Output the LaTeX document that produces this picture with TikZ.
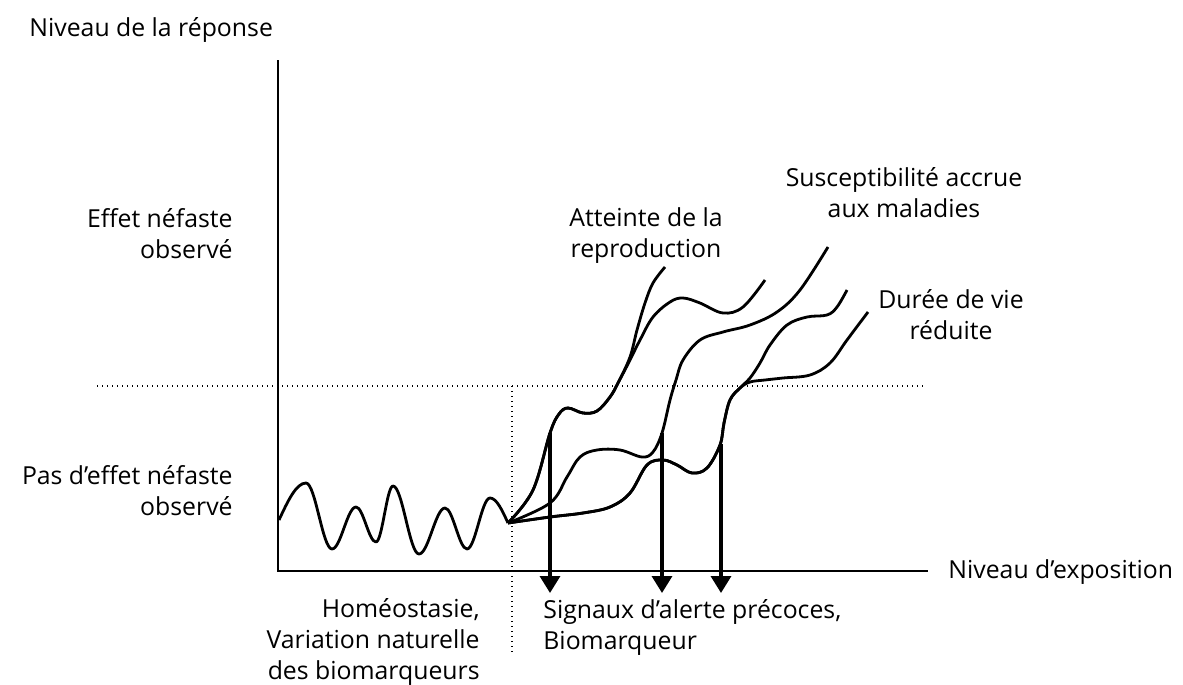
\documentclass[tikz,border=0pt]{standalone}
\usepackage{fontspec}
\setsansfont{Open Sans}
\usetikzlibrary{arrows.meta}
\newcommand*{\xo  }{278}
\newcommand*{\yo  }{571}
\newcommand*{\ylim}{386}
\newcommand*{\xlim}{512}
\newcommand*{\lbl }{\fontsize{12.4}{15.5}\selectfont}

\begin{document}
\begin{tikzpicture}[x=0.5pt, y=-0.5pt, font=\sffamily\lbl,
    curve/.style  = {line width=1.4pt, line join=round},
    limit/.style  = {line width=0.8pt, dash pattern=on 0.7pt off 1.8pt},
    signal/.style = {line width=1.7pt, -{Triangle[length=8.5pt, width=10pt]}},
    lab/.style    = {inner sep=0pt}]
    \useasboundingbox (0,0) rectangle (1183,685);
    % axes
    \coordinate (origin) at (\xo,\yo);
    \coordinate (ytop)   at (\xo,60);
    \coordinate (xend)   at (928,\yo);
    \draw [line width=1.3pt] (ytop) -- (origin) -- (xend);
    \coordinate (hl) at (97,\ylim);
    \coordinate (hr) at (923,\ylim);
    \coordinate (vt) at (\xlim,\ylim);
    \coordinate (vb) at (\xlim,652);
    \draw [limit] (hl) -- (hr);
    \draw [limit] (vt) -- (vb);
    % homeostasis
    \draw [curve] (279,520) sin (306,483) cos (319,516) sin (332,549) cos (344,528) sin (356,507)
        cos (366,524.5) sin (376,542) cos (384.5,514) sin (393,486) cos (406,520) sin (419,554)
        cos (432,531) sin (445,508) cos (456,528.5) sin (467,549) cos (478.5,523.5) sin (490,498)
        cos (508,523);
    % responses
    \draw [curve] plot [smooth, tension=0.6] coordinates {(508,523) (533,490) (550,433) (559,414)
        (568,408) (583,413) (597,411) (610,397) (618,383) (630,357) (637,330) (645,303) (653,283) (665,267)};
    \draw [curve] plot [smooth, tension=0.6] coordinates {(508,523) (533,490) (550,433) (559,414)
        (568,408) (583,413) (597,411) (610,397) (618,383) (629,362) (640,340) (653,317) (670,302)
        (683,298) (700,303) (723,313) (743,307) (765,280)};
    \draw [curve] plot [smooth, tension=0.6] coordinates {(508,523) (550,503) (567,477) (580,457)
        (597,450) (620,450) (642,457) (653,452) (662,433) (670,400) (676,380) (683,360) (700,340)
        (723,332) (750,325) (777,312) (800,290) (828,247)};
    \draw [curve] plot [smooth, tension=0.6] coordinates {(508,523) (550,517) (583,513) (610,507)
        (630,493) (647,465) (663,460) (677,465) (692,473) (707,468) (720,445) (724,423) (730,400)
        (740,388) (750,378) (760,363) (770,345) (787,325) (807,317) (827,315) (837,307) (847,290)};
    \draw [curve] plot [smooth, tension=0.6] coordinates {(508,523) (550,517) (583,513) (610,507)
        (630,493) (647,465) (663,460) (677,465) (692,473) (707,468) (720,445) (724,423) (730,400)
        (740,388) (750,382) (765,380) (783,378) (810,375) (830,363) (847,340) (868,312)};
    % early signals
    \coordinate (sA) at (550,433);
    \coordinate (sB) at (662,433);
    \coordinate (sC) at (721,444);
    \coordinate (eA) at (550,593);
    \coordinate (eB) at (662,593);
    \coordinate (eC) at (721,593);
    \draw [signal] (sA) -- (eA);
    \draw [signal] (sB) -- (eB);
    \draw [signal] (sC) -- (eC);
    % labels
    \node [lab, anchor=base west] (resp) at (29,36) {Niveau de la réponse};
    \node [lab, anchor=base west] (expo) at (948,578) {Niveau d’exposition};
    \node [lab, anchor=base east, align=right] (effet) at (233,258) {Effet néfaste\\observé};
    \node [lab, anchor=base east, align=right] (pas) at (233,515) {Pas d’effet néfaste\\observé};
    \node [lab, anchor=base east, align=right] (homeo) at (480,679) {Homéostasie,\\Variation naturelle\\des biomarqueurs};
    \node [lab, anchor=base west, align=left] (alerte) at (543,649) {Signaux d’alerte précoces,\\Biomarqueur};
    \node [lab, anchor=base, align=center] (repro) at (646,257) {Atteinte de la\\reproduction};
    \node [lab, anchor=base, align=center] (susc) at (904,217) {Susceptibilité accrue\\aux maladies};
    \node [lab, anchor=base, align=center] (duree) at (951,339) {Durée de vie\\réduite};
\end{tikzpicture}
\end{document}
